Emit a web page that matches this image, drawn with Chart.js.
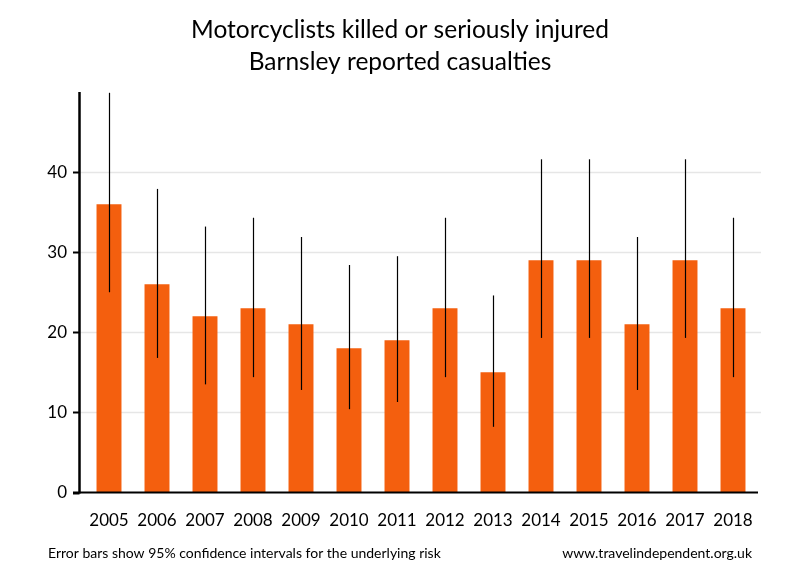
<!DOCTYPE html>
<html>
<head>
<meta charset="utf-8">
<script src="https://cdn.jsdelivr.net/npm/chart.js@4/dist/chart.umd.min.js"></script>
<style>
  html, body { margin: 0; padding: 0; background: #fff; }
  #c { display: block; }
</style>
</head>
<body>
<canvas id="c" width="800" height="580"></canvas>
<script>
const titleLines = ["Motorcyclists killed or seriously injured", "Barnsley reported casualties"];
const footerLeft = "Error bars show 95% confidence intervals for the underlying risk";
const footerRight = "www.travelindependent.org.uk";

const years = ["2005","2006","2007","2008","2009","2010","2011","2012","2013","2014","2015","2016","2017","2018"];
const casualties = [36, 26, 22, 23, 21, 18, 19, 23, 15, 29, 29, 21, 29, 23];
const ciLower = [25.0, 16.8, 13.5, 14.4, 12.8, 10.4, 11.3, 14.4, 8.2, 19.3, 19.3, 12.8, 19.3, 14.4];
const ciUpper = [49.9, 37.9, 33.2, 34.3, 31.9, 28.4, 29.5, 34.3, 24.6, 41.6, 41.6, 31.9, 41.6, 34.3];
const yTicks = [0, 10, 20, 30, 40];

const FONT = "Lato, 'Open Sans', sans-serif";

const decor = {
  id: 'decor',
  beforeDatasetsDraw(chart) {
    const ctx = chart.ctx, y = chart.scales.y, a = chart.chartArea;
    ctx.save();
    ctx.strokeStyle = '#e6e6e6';
    ctx.lineWidth = 1.5;
    yTicks.forEach(v => {
      if (v === 0) return;
      const py = Math.round(y.getPixelForValue(v)) + 0.5;
      ctx.beginPath();
      ctx.moveTo(a.left - 5, py);
      ctx.lineTo(a.right + 4, py);
      ctx.stroke();
    });
    ctx.restore();
  },
  afterDatasetsDraw(chart) {
    const ctx = chart.ctx, x = chart.scales.x, y = chart.scales.y, a = chart.chartArea;
    ctx.save();
    // error bars
    ctx.strokeStyle = '#000';
    ctx.lineWidth = 1.2;
    casualties.forEach((v, i) => {
      const px = Math.round(x.getPixelForValue(i)) + 0.5;
      ctx.beginPath();
      ctx.moveTo(px, y.getPixelForValue(ciUpper[i]));
      ctx.lineTo(px, y.getPixelForValue(ciLower[i]));
      ctx.stroke();
    });
    // axes
    const axisX = a.left - 5.5;
    const base = y.getPixelForValue(0);
    ctx.lineWidth = 2.5;
    ctx.beginPath();
    ctx.moveTo(axisX, a.top);
    ctx.lineTo(axisX, base + 1);
    ctx.stroke();
    ctx.lineWidth = 2;
    ctx.beginPath();
    ctx.moveTo(a.left - 12, base);
    ctx.lineTo(a.right + 1, base);
    ctx.stroke();
    // tick marks
    yTicks.forEach(v => {
      const py = Math.round(y.getPixelForValue(v)) + 0.5;
      ctx.beginPath();
      ctx.moveTo(a.left - 12, py);
      ctx.lineTo(axisX, py);
      ctx.stroke();
    });
    ctx.restore();
  },
  afterDraw(chart) {
    const ctx = chart.ctx;
    ctx.save();
    ctx.fillStyle = '#000';
    ctx.textBaseline = 'middle';
    ctx.textAlign = 'center';
    ctx.font = "24.5px " + FONT;
    ctx.fillText(titleLines[0], 400, 30);
    ctx.fillText(titleLines[1], 400, 62);
    ctx.font = "14px " + FONT;
    ctx.textAlign = 'left';
    ctx.fillText(footerLeft, 48, 553);
    ctx.textAlign = 'right';
    ctx.fillText(footerRight, 752, 553);
    ctx.restore();
  }
};

new Chart(document.getElementById('c'), {
  type: 'bar',
  data: {
    labels: years,
    datasets: [{
      data: casualties,
      backgroundColor: '#F45F0E',
      borderWidth: 0,
      barPercentage: 0.52,
      categoryPercentage: 1.0
    }]
  },
  options: {
    responsive: false,
    animation: false,
    devicePixelRatio: 1,
    layout: { padding: { top: 92, right: 43, left: 0, bottom: 0 } },
    plugins: { legend: { display: false }, title: { display: false }, tooltip: { enabled: false } },
    scales: {
      x: {
        grid: { display: false, drawTicks: false },
        border: { display: false },
        ticks: { color: '#000', font: { family: FONT, size: 17 }, padding: 18, maxRotation: 0, autoSkip: false },
        afterFit(s) { s.height = 87.5; }
      },
      y: {
        min: 0, max: 50,
        grid: { display: false, drawTicks: false },
        border: { display: false },
        ticks: {
          stepSize: 10, color: '#000', font: { family: FONT, size: 17 }, padding: 18,
          callback: v => (yTicks.includes(v) ? String(v) : null)
        },
        afterFit(s) { s.width = 85; }
      }
    }
  },
  plugins: [decor]
});
</script>
</body>
</html>
